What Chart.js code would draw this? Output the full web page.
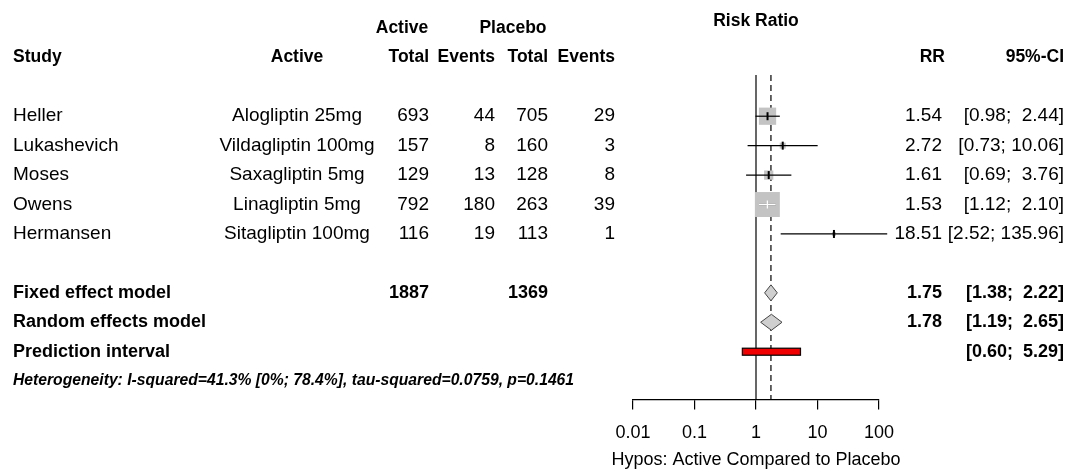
<!DOCTYPE html>
<html>
<head>
<meta charset="utf-8">
<script src="https://cdn.jsdelivr.net/npm/chart.js@4.4.1/dist/chart.umd.min.js"></script>
<style>
  html, body { margin: 0; padding: 0; background: #fff; }
</style>
</head>
<body>
<canvas id="forest" width="1069" height="469"></canvas>
<script>
// study data
const studies = ["Heller", "Lukashevich", "Moses", "Owens", "Hermansen"];
const drugs = ["Alogliptin 25mg", "Vildagliptin 100mg", "Saxagliptin 5mg", "Linagliptin 5mg", "Sitagliptin 100mg"];
const activeTotal = [693, 157, 129, 792, 116];
const activeEvents = [44, 8, 13, 180, 19];
const placeboTotal = [705, 160, 128, 263, 113];
const placeboEvents = [29, 3, 8, 39, 1];
const rr = [1.54, 2.72, 1.61, 1.53, 18.51];
const ciLower = [0.98, 0.73, 0.69, 1.12, 2.52];
const ciUpper = [2.44, 10.06, 3.76, 2.10, 135.96];
const weights = [28.1, 3.4, 8.1, 59.0, 1.5]; // fixed effect weight, %

// pooled estimates: fixed, random, prediction interval
const summaryLabels = ["Fixed effect model", "Random effects model", "Prediction interval"];
const summaryRR = [1.75, 1.78];
const summaryLower = [1.38, 1.19, 0.60];
const summaryUpper = [2.22, 2.65, 5.29];

const axisTicks = [0.01, 0.1, 1, 10, 100];
const axisTitle = "Hypos: Active Compared to Placebo";
const heterogeneity = "Heterogeneity: I-squared=41.3% [0%; 78.4%], tau-squared=0.0759, p=0.1461";

const FAMILY = '"Liberation Sans", Arial, Helvetica, sans-serif';
const fNormal = "19px " + FAMILY;
const fHead = "bold 17.5px " + FAMILY;
const fBold = "bold 18px " + FAMILY;
const fNote = "italic bold 15.7px " + FAMILY;
const fAxis = "18px " + FAMILY;

const summaryRow = [6, 7, 8];
const sum = (arr) => arr.reduce((a, b) => a + b, 0);
const fmtCI = (lo, hi) => "[" + lo.toFixed(2) + "; " + hi.toFixed(2).padStart(5, " ") + "]";
const boxSide = (w) => 3.25 * Math.sqrt(w);

const ciSets = studies.map((s, i) => ({
  type: "scatter",
  data: [{ x: ciLower[i], y: i }, { x: ciUpper[i], y: i }],
  showLine: true,
  borderColor: "#000",
  borderWidth: 1.2,
  pointRadius: 0,
  clip: false,
  order: 1
}));

const boxSet = {
  type: "scatter",
  data: rr.map((v, i) => ({ x: v, y: i })),
  pointStyle: "rect",
  pointRadius: weights.map((w) => boxSide(w) / Math.SQRT2),
  backgroundColor: "#c3c3c3",
  borderWidth: 0,
  clip: false,
  order: 2
};

function label(ctx, str, x, y, align, font) {
  ctx.font = font;
  ctx.textAlign = align;
  ctx.fillText(str, x, y);
}

const forestPlugin = {
  id: "forest",
  beforeDatasetsDraw(chart) {
    const { ctx, chartArea, scales: { x } } = chart;
    ctx.save();
    ctx.strokeStyle = "#000";
    ctx.lineWidth = 1.2;
    const x1 = x.getPixelForValue(1);
    ctx.beginPath();
    ctx.moveTo(x1, chartArea.top);
    ctx.lineTo(x1, chartArea.bottom);
    ctx.stroke();
    // fixed effect estimate
    const xf = x.getPixelForValue(summaryRR[0]);
    ctx.setLineDash([6, 4]);
    ctx.beginPath();
    ctx.moveTo(xf, chartArea.top);
    ctx.lineTo(xf, chartArea.bottom);
    ctx.stroke();
    ctx.restore();
  },
  afterDatasetsDraw(chart) {
    const { ctx, scales: { x, y } } = chart;
    ctx.save();
    // point estimate ticks; white where the interval sits inside its box
    rr.forEach((v, i) => {
      const px = x.getPixelForValue(v);
      const py = y.getPixelForValue(i);
      const lo = x.getPixelForValue(ciLower[i]);
      const hi = x.getPixelForValue(ciUpper[i]);
      const side = boxSide(weights[i]);
      const inside = hi - lo < side;
      ctx.strokeStyle = inside ? "#fff" : "#000";
      if (inside) {
        ctx.lineWidth = 1.2;
        ctx.beginPath();
        ctx.moveTo(lo, py);
        ctx.lineTo(hi, py);
        ctx.stroke();
      }
      ctx.lineWidth = inside ? 1.2 : 2;
      ctx.beginPath();
      ctx.moveTo(px, py - 4);
      ctx.lineTo(px, py + 4);
      ctx.stroke();
    });
    // diamonds
    summaryRR.forEach((v, k) => {
      const py = y.getPixelForValue(summaryRow[k]);
      const lo = x.getPixelForValue(summaryLower[k]);
      const hi = x.getPixelForValue(summaryUpper[k]);
      const mid = x.getPixelForValue(v);
      ctx.beginPath();
      ctx.moveTo(lo, py);
      ctx.lineTo(mid, py - 8);
      ctx.lineTo(hi, py);
      ctx.lineTo(mid, py + 8);
      ctx.closePath();
      ctx.fillStyle = "#cfcfcf";
      ctx.fill();
      ctx.strokeStyle = "#444";
      ctx.lineWidth = 1;
      ctx.stroke();
    });
    // prediction interval
    const py = y.getPixelForValue(summaryRow[2]);
    const lo = x.getPixelForValue(summaryLower[2]);
    const hi = x.getPixelForValue(summaryUpper[2]);
    ctx.fillStyle = "#f00000";
    ctx.fillRect(lo, py - 3.5, hi - lo, 7);
    ctx.strokeStyle = "#000";
    ctx.lineWidth = 1.2;
    ctx.strokeRect(lo, py - 3.5, hi - lo, 7);
    ctx.restore();
  },
  afterDraw(chart) {
    const { ctx, chartArea, scales: { x, y } } = chart;
    const row = (i) => y.getPixelForValue(i);
    ctx.save();
    ctx.fillStyle = "#000";
    ctx.textBaseline = "middle";

    // headers
    label(ctx, "Risk Ratio", x.getPixelForValue(1), row(-3.24), "center", fHead);
    label(ctx, "Active", 402, row(-3), "center", fHead);
    label(ctx, "Placebo", 513, row(-3), "center", fHead);
    label(ctx, "Study", 13, row(-2), "left", fHead);
    label(ctx, "Active", 297, row(-2), "center", fHead);
    label(ctx, "Total", 429, row(-2), "right", fHead);
    label(ctx, "Events", 495, row(-2), "right", fHead);
    label(ctx, "Total", 548, row(-2), "right", fHead);
    label(ctx, "Events", 615, row(-2), "right", fHead);
    label(ctx, "RR", 945, row(-2), "right", fHead);
    label(ctx, "95%-CI", 1064, row(-2), "right", fHead);

    // study rows
    studies.forEach((s, i) => {
      const py = row(i);
      label(ctx, s, 13, py, "left", fNormal);
      label(ctx, drugs[i], 297, py, "center", fNormal);
      label(ctx, String(activeTotal[i]), 429, py, "right", fNormal);
      label(ctx, String(activeEvents[i]), 495, py, "right", fNormal);
      label(ctx, String(placeboTotal[i]), 548, py, "right", fNormal);
      label(ctx, String(placeboEvents[i]), 615, py, "right", fNormal);
      label(ctx, rr[i].toFixed(2), 942, py, "right", fNormal);
      label(ctx, fmtCI(ciLower[i], ciUpper[i]), 1064, py, "right", fNormal);
    });

    // pooled rows
    summaryLabels.forEach((s, k) => {
      const py = row(summaryRow[k]);
      label(ctx, s, 13, py, "left", fBold);
      if (k < summaryRR.length) label(ctx, summaryRR[k].toFixed(2), 942, py, "right", fBold);
      label(ctx, fmtCI(summaryLower[k], summaryUpper[k]), 1064, py, "right", fBold);
    });
    label(ctx, String(sum(activeTotal)), 429, row(summaryRow[0]), "right", fBold);
    label(ctx, String(sum(placeboTotal)), 548, row(summaryRow[0]), "right", fBold);

    label(ctx, heterogeneity, 13, row(9), "left", fNote);

    // x axis title, centred under the axis
    label(ctx, axisTitle, (chartArea.left + chartArea.right) / 2, chartArea.bottom + 61, "center", fAxis);
    ctx.restore();
  }
};

new Chart(document.getElementById("forest"), {
  type: "scatter",
  data: { datasets: [boxSet, ...ciSets] },
  options: {
    responsive: false,
    animation: false,
    events: [],
    layout: { padding: { left: 633, right: 190, top: 75, bottom: 12 } },
    plugins: { legend: { display: false }, tooltip: { enabled: false } },
    scales: {
      x: {
        type: "logarithmic",
        min: 0.01,
        max: 100,
        afterBuildTicks: (scale) => { scale.ticks = axisTicks.map((v) => ({ value: v })); },
        ticks: {
          callback: (v) => String(v),
          color: "#000",
          font: { size: 18, family: FAMILY },
          padding: 13,
          maxRotation: 0,
          autoSkip: false
        },
        grid: { drawOnChartArea: false, drawTicks: true, tickLength: 10, color: "#000", lineWidth: 1.2 },
        border: { display: true, color: "#000", width: 1.2 }
      },
      y: { type: "linear", reverse: true, min: -1.4, max: 9.62, display: false }
    }
  },
  plugins: [forestPlugin]
});
</script>
</body>
</html>
